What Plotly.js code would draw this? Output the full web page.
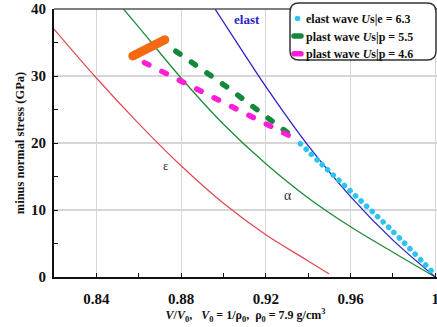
<!DOCTYPE html>
<html>
<head>
<meta charset="utf-8">
<script src="https://cdn.plot.ly/plotly-3.0.1.min.js"></script>
<style>html,body{margin:0;padding:0;background:#fff;}#chart{width:437px;height:327px;}</style>
</head>
<body>
<div id="chart"></div>
<script>
// Curve data
const epsX = [0.82, 0.84, 0.86, 0.88, 0.90, 0.92, 0.94, 0.9497];
const epsY = [37, 29.7, 22.9, 16.6, 11.0, 6.3, 2.4, 0.5];

const alphaX = [0.8528, 0.86, 0.88, 0.90, 0.92, 0.94, 0.96, 0.98, 1.0];
const alphaY = [40, 37.3, 29.7, 22.8, 16.9, 11.8, 7.5, 3.7, 0];

const elastX = [0.896, 0.91, 0.92, 0.94, 0.96, 0.98, 1.0];
const elastY = [40, 33.2, 28.4, 19.6, 12.0, 5.5, 0];

const elWaveX = [0.9363, 0.9458, 0.9607, 0.9787, 1.0];
const elWaveY = [19.9, 17.0, 12.6, 7.2, 0.3];

const pl55X = [0.8775, 0.9019, 0.9312];
const pl55Y = [33.7, 28.3, 21.3];

const pl46X = [0.8627, 0.8884, 0.9137, 0.9335];
const pl46Y = [32.0, 27.9, 23.8, 20.7];

const orangeX = [0.8572, 0.8723];
const orangeY = [33.0, 35.4];

const xTickVals = [0.84, 0.88, 0.92, 0.96, 1.0];
const xTickText = ["0.84", "0.88", "0.92", "0.96", "1"];
const yTickVals = [0, 10, 20, 30, 40];
const yTickText = ["0", "10", "20", "30", "40"];

const legendNames = [
  "elast wave <i>U</i>s|e = 6.3",
  "plast wave <i>U</i>s|p = 5.5",
  "plast wave <i>U</i>s|p = 4.6"
];

const SERIF = "Liberation Serif, Times New Roman, serif";

const traces = [
  {x: epsX, y: epsY, mode: "lines", line: {color: "#e2474f", width: 1.2, shape: "spline", smoothing: 1}, showlegend: false, hoverinfo: "skip"},
  {x: alphaX, y: alphaY, mode: "lines", line: {color: "#1e8c3a", width: 1.3, shape: "spline", smoothing: 1}, showlegend: false, hoverinfo: "skip"},
  {x: elastX, y: elastY, mode: "lines", line: {color: "#2a24c8", width: 1.3, shape: "spline", smoothing: 1}, showlegend: false, hoverinfo: "skip"},
  {x: orangeX, y: orangeY, mode: "lines", line: {color: "#f36a12", width: 9}, showlegend: false, hoverinfo: "skip"},
  {x: elWaveX, y: elWaveY, mode: "lines", name: legendNames[0], line: {color: "#2cc3ef", width: 5.5, dash: "0.1px,7.5px", shape: "spline", smoothing: 1}},
  {x: pl55X, y: pl55Y, mode: "lines", name: legendNames[1], line: {color: "#14883a", width: 5.5, dash: "5px,14px"}},
  {x: pl46X, y: pl46Y, mode: "lines", name: legendNames[2], line: {color: "#ff1ed6", width: 5.5, dash: "5px,14.5px"}}
];

// legend rounded box (pixel -> paper)
const L = 54, R = 437, T = 9, B = 277.5;
const px = v => (v - L) / (R - L);
const py = v => (B - v) / (B - T);
const bx0 = px(290), bx1 = px(436), by0 = py(60), by1 = py(3);
const rx = 9 / (R - L), ry = 9 / (B - T);
const boxPath = `M${bx0+rx},${by1} L${bx1-rx},${by1} Q${bx1},${by1} ${bx1},${by1-ry} L${bx1},${by0+ry} Q${bx1},${by0} ${bx1-rx},${by0} L${bx0+rx},${by0} Q${bx0},${by0} ${bx0},${by0+ry} L${bx0},${by1-ry} Q${bx0},${by1} ${bx0+rx},${by1} Z`;

const layout = {
  width: 437, height: 327,
  margin: {l: 54, r: 0, t: 9, b: 49.5},
  paper_bgcolor: "#fff", plot_bgcolor: "#fff",
  font: {family: SERIF, color: "#111"},
  showlegend: true,
  legend: {
    x: px(266), xanchor: "left", y: py(4), yanchor: "top",
    bgcolor: "rgba(0,0,0,0)", borderwidth: 0,
    font: {family: SERIF, size: 12, color: "#111", weight: "bold"},
    tracegroupgap: 0
  },
  xaxis: {
    range: [0.82, 1.0008], tickvals: xTickVals, ticktext: xTickText,
    ticklabeloverflow: "allow",
    showgrid: true, gridcolor: "#d6d6d6", gridwidth: 1.2,
    showline: true, linecolor: "#111", linewidth: 2, zeroline: false,
    ticks: "inside", ticklen: 4, tickcolor: "#111",
    minor: {tickvals: [0.86, 0.90, 0.94, 0.98], ticks: "inside", ticklen: 4, tickcolor: "#111", showgrid: false},
    tickfont: {family: SERIF, size: 15, color: "#111", weight: "bold"},
    ticklabelstandoff: 7,
    title: {text: "<i>V</i>/<i>V</i><sub>0</sub>,   <i>V</i><sub>0</sub> = 1/ρ<sub>0</sub>,  ρ<sub>0</sub> = 7.9 g/cm<sup>3</sup>",
            font: {family: SERIF, size: 12, color: "#111", weight: "bold"}, standoff: 4}
  },
  yaxis: {
    range: [0, 40], tickvals: yTickVals, ticktext: yTickText,
    showgrid: true, gridcolor: "#d6d6d6", gridwidth: 1.2,
    showline: true, linecolor: "#111", linewidth: 2, zeroline: false,
    ticks: "inside", ticklen: 4, tickcolor: "#111",
    minor: {tickvals: [5, 15, 25, 35], ticks: "inside", ticklen: 4, tickcolor: "#111", showgrid: false},
    tickfont: {family: SERIF, size: 15, color: "#111", weight: "bold"},
    ticklabelstandoff: 3,
    title: {text: "minus normal stress (GPa)", font: {family: SERIF, size: 12.5, color: "#111", weight: "bold"}, standoff: 4}
  },
  shapes: [
    {type: "line", xref: "paper", yref: "paper", x0: 0, x1: 1, y0: 1, y1: 1, line: {color: "#555", width: 1.3}},
    {type: "path", xref: "paper", yref: "paper", path: boxPath, fillcolor: "#fff", line: {color: "#333", width: 1.5}, layer: "above"}
  ],
  annotations: [
    {x: 0.911, y: 38.4, xref: "x", yref: "y", text: "elast", showarrow: false, font: {family: SERIF, size: 13, color: "#2a24c8", weight: "bold"}},
    {x: 0.8728, y: 16.6, xref: "x", yref: "y", text: "ε", showarrow: false, font: {family: SERIF, size: 13, color: "#333"}},
    {x: 0.9306, y: 12.1, xref: "x", yref: "y", text: "α", showarrow: false, font: {family: SERIF, size: 14, color: "#333"}}
  ]
};

Plotly.newPlot("chart", traces, layout, {staticPlot: true}).then(function(gd) {
  // round caps for thick dashed / dotted lines
  gd.querySelectorAll(".scatterlayer .trace path.js-line").forEach(function(p) {
    p.style.strokeLinecap = "round";
  });
  // compact legend entries with short symbols, like the reference
  var items = gd.querySelectorAll(".legend .traces");
  var y0 = null;
  items.forEach(function(it, i) {
    var tr = it.getAttribute("transform") || "";
    var m = tr.match(/translate\(([-\d.e]+)[ ,]+([-\d.e]+)\)/);
    if (m) {
      var x = parseFloat(m[1]), y = parseFloat(m[2]);
      if (y0 === null) y0 = y;
      it.setAttribute("transform", "translate(" + x + "," + (y0 + i * 17.6) + ")");
    }
    var p = it.querySelector(".legendlines path");
    if (!p) return;
    p.style.strokeLinecap = "round";
    p.style.strokeDasharray = "none";
    if (i === 0) { p.setAttribute("d", "M31.5,0h0.1"); }
    else { p.setAttribute("d", "M28,0h7"); }
  });
});
</script>
</body>
</html>
